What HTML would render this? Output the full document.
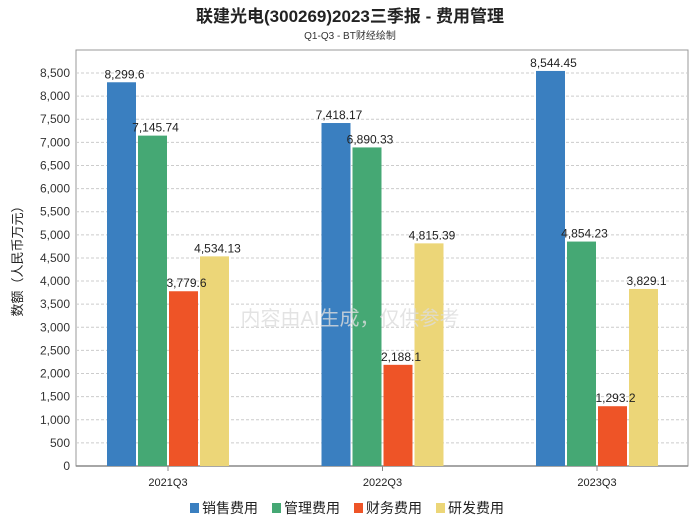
<!DOCTYPE html>
<html><head><meta charset="utf-8"><style>
body{margin:0;background:#fff;font-family:"Liberation Sans","Noto Sans CJK SC",sans-serif;}
</style></head><body>
<svg width="700" height="524" xmlns="http://www.w3.org/2000/svg" font-family="Liberation Sans, Noto Sans CJK SC, sans-serif">
<text x="350" y="22" text-anchor="middle" font-size="17" font-weight="bold" fill="#222">联建光电(300269)2023三季报 - 费用管理</text>
<text x="350" y="39" text-anchor="middle" font-size="10" fill="#333">Q1-Q3 - BT财经绘制</text>
<rect x="76" y="50" width="612" height="416" fill="#fff" stroke="#999"/>
<g id="grid"></g>
<g id="bars"></g>
<g id="labels"></g>
<text x="350" y="325" text-anchor="middle" font-size="20" fill="#ddd" opacity="0.8">内容由AI生成，仅供参考</text>
<text transform="translate(22,258) rotate(-90)" text-anchor="middle" font-size="13" fill="#222">数额（人民币万元）</text>
<g id="legend"></g>
</svg>
<script>
const categories=["2021Q3","2022Q3","2023Q3"];
const seriesNames=["销售费用","管理费用","财务费用","研发费用"];
const colors=["#3a7fc0","#45a874","#ee5427","#ecd678"];
const sales=[8299.6,7418.17,8544.45];
const admin=[7145.74,6890.33,4854.23];
const finance=[3779.6,2188.1,1293.2];
const rnd=[4534.13,4815.39,3829.1];
const labelsTxt=[["8,299.6","7,418.17","8,544.45"],["7,145.74","6,890.33","4,854.23"],["3,779.6","2,188.1","1,293.2"],["4,534.13","4,815.39","3,829.1"]];
const yTicks=[0,500,1000,1500,2000,2500,3000,3500,4000,4500,5000,5500,6000,6500,7000,7500,8000,8500];
const series=[sales,admin,finance,rnd];
const NS="http://www.w3.org/2000/svg";
const L=76,R=688,B=466,T8500=73;
const y=v=>B-(v/8500)*(B-T8500);
const step=214.5;
const xc=i=>382.5+(i-(categories.length-1)/2)*step;
function mk(tag,a,p){const e=document.createElementNS(NS,tag);for(const k in a)e.setAttribute(k,a[k]);p.appendChild(e);return e;}
const g=document.getElementById('grid');
yTicks.forEach(t=>{
 if(t>0){const l=mk('line',{x1:L,x2:R,y1:y(t),y2:y(t),stroke:'#ccc','stroke-dasharray':'3,2'},g);
 
 }
 const tx=mk('text',{x:L-6,y:y(t)+4,'text-anchor':'end','font-size':12,fill:'#333'},g);tx.textContent=t.toLocaleString('en-US');
 
 
});
mk('line',{x1:L,x2:R,y1:B,y2:B,stroke:'#888','stroke-width':1.5},g);
categories.forEach((c,i)=>{
 mk('line',{x1:xc(i),x2:xc(i),y1:B,y2:B+5,stroke:'#888'},g);
 const t=mk('text',{x:xc(i),y:B+20,'text-anchor':'middle','font-size':11,fill:'#222'},g);t.textContent=c;
 
 
});
const bg=document.getElementById('bars'),lg=document.getElementById('labels');
const w=29,gap=2;
series.forEach((s,si)=>{s.forEach((v,i)=>{
 const x=xc(i)-2*(w+gap)+gap/2+si*(w+gap);
 const r=mk('rect',{x:x,y:y(v),width:w,height:B-y(v),fill:colors[si]},bg);
 
 
 const t=mk('text',{x:x+w/2+3,y:y(v)-4,'text-anchor':'middle','font-size':12,fill:'#222'},lg);t.textContent=labelsTxt[si][i];
 
 
});});
const leg=document.getElementById('legend');
let lx=190;
seriesNames.forEach((n,i)=>{
 const r=mk('rect',{x:lx,y:503,width:9,height:10,fill:colors[i]},leg);
 
 
 const t=mk('text',{x:lx+12,y:513,'font-size':14,fill:'#222'},leg);t.textContent=n;
 
 
 lx+=82;
});
</script>
</body></html>
